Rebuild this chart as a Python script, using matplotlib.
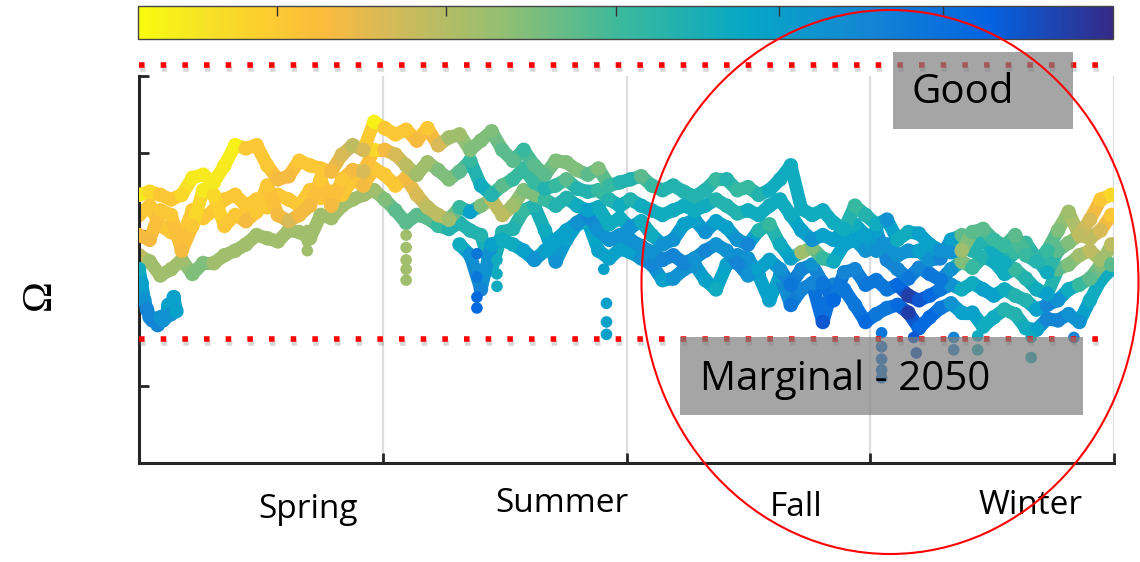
"""Seasonal saturation state (Omega) scatter with Good / Marginal thresholds."""

import matplotlib

matplotlib.use("Agg")
import matplotlib.patheffects as pe
import matplotlib.pyplot as plt
import numpy as np
from matplotlib.collections import LineCollection
from matplotlib.colors import LinearSegmentedColormap, Normalize
from matplotlib.patches import Ellipse, Rectangle

# ---- data (day of year, Omega, colour index 0 = yellow ... 10 = navy) ----
DAYS_FULL = np.arange(0, 365, 4)
DAYS_LATE = np.arange(120, 365, 4)
DAYS_TAIL = np.arange(0, 15, 1)

upper_omega = [
    2.23, 2.25, 2.23, 2.20, 2.23, 2.34, 2.36, 2.31, 2.42, 2.55,
    2.53, 2.55, 2.42, 2.33, 2.35, 2.45, 2.42, 2.40, 2.38, 2.49,
    2.55, 2.52, 2.70, 2.66, 2.62, 2.65, 2.58, 2.66, 2.55, 2.60,
    2.62, 2.52, 2.58, 2.64, 2.52, 2.45, 2.52, 2.42, 2.36, 2.45,
    2.44, 2.39, 2.36, 2.40, 2.29, 2.31, 2.33, 2.35, 2.29, 2.26,
    2.29, 2.25, 2.22, 2.26, 2.33, 2.33, 2.26, 2.28, 2.23, 2.26,
    2.33, 2.42, 2.14, 2.10, 2.13, 2.05, 2.01, 2.16, 2.10, 2.04,
    2.07, 1.94, 1.99, 1.98, 1.91, 1.87, 1.86, 1.87, 1.99, 2.01,
    1.94, 1.90, 1.97, 1.84, 1.80, 1.87, 2.00, 2.12, 1.97, 2.07,
    2.20, 2.23,
]
upper_colour = [
    0.5, 1, 1.5, 1.5, 1, 0.5, 0.5, 0.5, 0.5, 0.3,
    1.5, 1.5, 1.5, 2, 2, 1.5, 1.5, 1.5, 2, 2.5,
    3, 2.5, 0.3, 1.5, 1.5, 1.5, 2, 1.5, 2.5, 3.5,
    3.5, 4, 4, 4, 4.5, 4.5, 5, 4.5, 4.5, 4,
    4, 4, 4.5, 4, 5, 5.5, 5.5, 4.5, 5, 5.5,
    5.5, 5.5, 5.5, 5.5, 5, 5.5, 5, 5, 5.5, 6,
    6, 6, 6, 6, 6, 6, 6, 5, 5.5, 6,
    7, 6, 6, 6.5, 6.5, 7, 7, 3.5, 4.5, 4.5,
    5, 5, 4.5, 5, 5.5, 5, 4, 3.5, 3, 2.5,
    1.5, 1,
]

middle_omega = [
    2.10, 2.16, 2.03, 1.99, 1.95, 2.13, 2.08, 2.13, 2.20, 2.23,
    2.16, 2.20, 2.15, 2.23, 2.20, 2.16, 2.26, 2.21, 2.25, 2.23,
    2.33, 2.29, 2.40, 2.36, 2.29, 2.34, 2.23, 2.15, 2.10, 2.07,
    2.15, 2.12, 2.16, 2.20, 2.10, 2.16, 2.26, 2.23, 2.20, 2.16,
    2.21, 2.16, 2.13, 2.15, 2.04, 2.08, 2.02, 2.06, 1.97, 1.91,
    1.94, 2.04, 2.07, 1.99, 2.06, 2.02, 1.94, 1.91, 2.00, 2.04,
    1.91, 1.82, 1.86, 1.89, 1.82, 1.80, 1.91, 1.94, 1.87, 2.00,
    1.81, 1.75, 1.69, 1.76, 1.72, 1.68, 1.75, 1.80, 1.76, 1.83,
    1.80, 1.72, 1.75, 1.69, 1.62, 1.59, 1.75, 1.78, 1.84, 1.87,
    1.81, 1.78,
]
middle_colour = [
    1.5, 1.5, 1.5, 1.5, 1.5, 1.5, 1.5, 1.5, 1.5, 1.5,
    1.5, 1.5, 1.5, 1.5, 1.5, 1.5, 1.5, 1.5, 1.5, 1.5,
    1.5, 2, 1.5, 1.5, 1.5, 2, 2.5, 3, 3, 3.5,
    5, 6.5, 4, 3, 3, 3.5, 4, 4, 5, 5.5,
    5.5, 6, 6.5, 6, 6, 6, 7, 6, 6, 7,
    7, 6.5, 6.5, 7, 6.5, 6.5, 7, 7.5, 5.5, 5,
    6, 6.5, 3.5, 4, 5, 6, 6.5, 6.5, 7, 6.5,
    7.5, 7.5, 8, 7.5, 8, 8, 7, 4, 5, 5.5,
    6, 6, 5, 5.5, 6, 6.5, 4.5, 4, 3.5, 3,
    3.5, 4.5,
]

lower_omega = [
    1.84, 1.80, 1.71, 1.75, 1.81, 1.72, 1.79, 1.79, 1.84, 1.87,
    1.91, 1.97, 1.95, 1.93, 2.00, 1.99, 1.95, 2.10, 2.08, 2.16,
    2.20, 2.23, 2.26, 2.20, 2.13, 2.05, 2.10, 2.08, 2.03, 2.01,
    2.05, 2.00, 1.97, 1.75, 1.99, 2.01, 2.13, 2.16, 2.00, 1.80,
    1.94, 2.04, 2.06, 1.87, 1.82, 1.88, 1.86, 1.82, 1.78, 1.68,
    1.69, 1.75, 1.78, 1.68, 1.62, 1.78, 1.84, 1.82, 1.71, 1.55,
    1.71, 1.52, 1.62, 1.66, 1.41, 1.65, 1.62, 1.52, 1.41, 1.46,
    1.50, 1.52, 1.47, 1.37, 1.44, 1.50, 1.53, 1.47, 1.47, 1.38,
    1.44, 1.49, 1.46, 1.37, 1.36, 1.43, 1.42, 1.46, 1.41, 1.55,
    1.68, 1.75,
]
lower_colour = [
    3, 3.5, 3.5, 3.5, 3.5, 4, 4, 3.5, 3.5, 3.5,
    3.5, 3.5, 3.5, 3.5, 3.5, 3.5, 3.5, 3.5, 3.5, 3.5,
    3.5, 3.5, 3.5, 4, 4.5, 4.5, 4.5, 4.5, 5, 5.5,
    5.5, 5.5, 5.5, 6, 5.5, 5.5, 5, 5.5, 6, 7,
    6.5, 6.5, 6, 6.5, 6.5, 6.5, 6.5, 7, 7.5, 6.5,
    7, 7, 7, 6.5, 6, 6.5, 7, 7, 6.5, 6.5,
    6.5, 8, 7.5, 7.5, 9, 7.5, 8, 8, 8.5, 8,
    8, 8.5, 9.5, 8.5, 8.5, 8, 7, 6.5, 6.5, 6,
    6, 5.5, 5.5, 6, 6.5, 7.5, 7.5, 7, 7, 6,
    6, 6,
]

inner_omega = [
    1.97, 1.94, 2.13, 2.10, 1.87, 2.03, 2.26, 2.23, 2.03, 2.10,
    2.06, 2.12, 2.29, 2.10, 2.06, 2.10, 2.16, 2.33, 2.16, 2.33,
    2.39, 2.38, 2.52, 2.52, 2.49, 2.42, 2.36, 2.44, 2.39, 2.33,
    2.38, 2.45, 2.29, 2.23, 2.29, 2.33, 2.40, 2.31, 2.27, 2.29,
    2.33, 2.27, 2.25, 2.26, 2.20, 2.16, 2.20, 2.16, 2.13, 2.10,
    2.13, 2.16, 2.13, 2.16, 2.20, 2.16, 2.11, 2.13, 2.10, 2.16,
    2.20, 2.10, 2.00, 1.94, 1.97, 1.94, 2.00, 2.04, 1.97, 1.87,
    1.91, 1.84, 1.87, 1.87, 1.81, 1.82, 1.94, 1.97, 1.87, 1.94,
    1.87, 1.79, 1.86, 1.92, 1.82, 1.73, 1.87, 1.92, 1.97, 1.95,
    2.00, 2.10,
]
inner_colour = [
    2, 2, 1.5, 1.5, 2, 1.5, 0.5, 1, 1.5, 1.5,
    2, 1.5, 1.5, 2, 2.5, 2, 2, 1.5, 2, 1.5,
    2, 2.5, 1, 2, 2.5, 3, 3.5, 3.5, 4, 4,
    4.5, 5, 6, 5.5, 4.5, 5, 5, 5, 5.5, 5,
    4.5, 5.5, 5.5, 5, 5.5, 6, 5.5, 6, 6, 6,
    6, 6, 6, 6, 5.5, 5.5, 5.5, 6, 6, 6,
    6, 6, 6.5, 7, 6.5, 6.5, 6.5, 6, 6.5, 7,
    7, 7, 7, 6.5, 7, 7.5, 6.5, 4.5, 5.5, 5.5,
    6, 6, 5, 5, 5.5, 6, 4.5, 4, 3, 3,
    2.5, 1.5,
]

late_omega = [
    1.91, 1.84, 1.62, 1.91, 1.94, 1.91, 1.87, 1.81, 1.87, 1.94,
    2.00, 2.05, 2.10, 2.00, 1.94, 1.97, 1.94, 1.90, 1.86, 1.81,
    1.84, 1.79, 1.82, 1.87, 1.91, 1.87, 1.79, 1.71, 1.75, 1.81,
    1.75, 1.65, 1.75, 1.78, 1.66, 1.55, 1.73, 1.75, 1.65, 1.68,
    1.62, 1.65, 1.58, 1.55, 1.58, 1.62, 1.65, 1.62, 1.66, 1.62,
    1.58, 1.62, 1.58, 1.55, 1.49, 1.52, 1.55, 1.62, 1.65, 1.69,
    1.78, 1.91,
]
late_colour = [
    6, 7, 7.5, 6.5, 6, 6, 6.5, 7, 6.5, 6.5,
    6.5, 7, 7.5, 7, 7, 7, 7, 7, 7, 7.5,
    7.5, 7.5, 7, 7.5, 7, 7, 7.5, 7, 6.5, 6.5,
    7, 8, 7.5, 7, 8, 8.5, 7.5, 7.5, 8, 8,
    8, 8.5, 9.5, 9, 8.5, 8, 7, 6, 6, 6.5,
    6.5, 6, 5.5, 5.5, 6.5, 7.5, 7, 6, 5, 4.5,
    4, 3,
]

tail_omega = [1.75, 1.66, 1.55, 1.49, 1.44, 1.42, 1.43, 1.39, 1.44, 1.42,
              1.44, 1.52, 1.46, 1.57, 1.48]
tail_colour = [6, 6.5, 7, 7.5, 7.5, 7.5, 7.5, 7.5, 7, 7, 7, 6.5, 7, 6.5, 6.5]

drip_days = [63, 63, 63, 100, 100, 100, 100, 100, 126.5, 126.5, 126.5, 126.5,
             134, 134, 134, 174, 175, 175, 175, 278, 278, 278, 278, 278,
             290, 291, 305, 305, 314, 314, 334, 334, 350]
drip_omega = [2.00, 1.93, 1.87, 1.97, 1.89, 1.81, 1.75, 1.68, 1.85, 1.70, 1.57, 1.50,
              1.81, 1.72, 1.64, 1.75, 1.53, 1.41, 1.33, 1.34, 1.25, 1.17, 1.10, 1.05,
              1.31, 1.21, 1.31, 1.23, 1.32, 1.23, 1.31, 1.18, 1.31]
drip_colour = [3.5, 3.5, 3.5, 3.5, 3.5, 3.5, 3.5, 3.5, 8, 8, 8.5, 8.5,
               6, 6, 6, 6.5, 6.5, 6.5, 6.5, 8, 8, 8, 8, 8,
               9, 9, 7.5, 7.5, 6, 6, 6, 6, 7.5]

season_labels = ["Spring", "Summer", "Fall", "Winter"]
GOOD_LEVEL = 3.07
MARGINAL_LEVEL = 1.30

# ---- style ----
W, H = 1140, 562
plt.rcParams["font.family"] = ["Open Sans", "DejaVu Sans"]

parula_r = LinearSegmentedColormap.from_list("parula_r", [
    (0.0, "#F9FB0E"), (0.06, "#F5E524"), (0.125, "#FCCE2E"), (0.19, "#FBBB3D"),
    (0.25, "#D9BA56"), (0.375, "#92BF73"), (0.5, "#38B99E"), (0.625, "#06A7C6"),
    (0.75, "#1485D4"), (0.875, "#0363E1"), (1.0, "#352A87"),
])
norm = Normalize(0, 10)


def fx(px):
    return px / W


def fy(py):
    return 1 - py / H


def draw_trace(ax, days, omega, colour, z):
    days = np.asarray(days, float)
    omega = np.asarray(omega, float)
    colour = np.asarray(colour, float)
    pts = np.column_stack([days, omega])
    segs = np.stack([pts[:-1], pts[1:]], axis=1)
    lc = LineCollection(segs, cmap=parula_r, norm=norm, linewidths=9.5,
                        capstyle="round", joinstyle="round", zorder=z)
    lc.set_array((colour[:-1] + colour[1:]) / 2)
    ax.add_collection(lc)
    ax.scatter(days, omega, c=colour, cmap=parula_r, norm=norm, s=110,
               edgecolors="none", zorder=z)


fig = plt.figure(figsize=(W / 100, H / 100), dpi=100)
ax = fig.add_axes([fx(139), fy(463), 975 / W, 387.5 / H])

draw_trace(ax, DAYS_FULL, lower_omega, lower_colour, 2.0)
draw_trace(ax, DAYS_LATE, late_omega, late_colour, 2.2)
draw_trace(ax, DAYS_FULL, middle_omega, middle_colour, 2.4)
draw_trace(ax, DAYS_FULL, inner_omega, inner_colour, 2.6)
draw_trace(ax, DAYS_FULL, upper_omega, upper_colour, 2.8)
draw_trace(ax, DAYS_TAIL, tail_omega, tail_colour, 3.0)
ax.scatter(drip_days, drip_omega, c=drip_colour, cmap=parula_r, norm=norm, s=70,
           edgecolors="none", zorder=3.1)

shadow = [pe.SimpleLineShadow(offset=(0.5, -3), shadow_color="gray", alpha=0.3), pe.Normal()]
for level in (GOOD_LEVEL, MARGINAL_LEVEL):
    ax.plot([0, 361], [level, level], color="red", lw=4, ls=(0, (1, 2.9)),
            clip_on=False, zorder=5, path_effects=shadow)

ax.set_xlim(0, 365)
ax.set_ylim(0.5, 3.0)
ax.set_xticks([0, 91.25, 182.5, 273.75, 365])
ax.set_yticks([0.5, 1.0, 1.5, 2.0, 2.5, 3.0])
ax.tick_params(direction="in", length=7, width=2, color="#262626",
               labelleft=False, labelbottom=False)
ax.grid(axis="x", color="#DDDDDD", lw=1.6)
ax.set_axisbelow(True)
for side in ("top", "right"):
    ax.spines[side].set_visible(False)
for side in ("left", "bottom"):
    ax.spines[side].set_linewidth(2.2)
    ax.spines[side].set_color("#262626")

# colour bar across the top
cax = fig.add_axes([fx(138), fy(39), 975 / W, 33 / H])
cb = fig.colorbar(plt.cm.ScalarMappable(norm=norm, cmap=parula_r), cax=cax,
                  orientation="horizontal")
cb.set_ticks([1.43, 3.16, 4.90, 6.57, 8.26])
cax.xaxis.set_ticks_position("top")
cax.tick_params(direction="in", length=7, width=1, color="#333333",
                labeltop=False, labelbottom=False)
cb.outline.set_linewidth(1)
cb.outline.set_edgecolor("#444444")

# labels
for name, (px, py) in zip(season_labels, [(308, 509), (562, 503), (796, 508), (1031, 505)]):
    fig.text(fx(px), fy(py), name, ha="center", va="center", fontsize=24)
fig.text(fx(40), fy(295), "\u03a9", rotation=90, ha="center", va="center",
         fontsize=30, family="Liberation Serif")

# annotation boxes
for x0, y0, w, h in [(893, 129, 180, 77), (680, 415, 403, 78)]:
    fig.add_artist(Rectangle((fx(x0), fy(y0)), w / W, h / H, transform=fig.transFigure,
                             facecolor="#7F7F7F", alpha=0.7, edgecolor="none", zorder=6))
fig.text(fx(912), fy(93), "Good", ha="left", va="center", fontsize=29, zorder=7)
fig.text(fx(700), fy(380), "Marginal - 2050", ha="left", va="center", fontsize=29, zorder=7)

fig.add_artist(Ellipse((fx(890), fy(282)), 497 / W, 544 / H, transform=fig.transFigure,
                       fill=False, edgecolor="red", lw=1.5, zorder=8))

fig.savefig("out.png", dpi=100)
plt.close(fig)
